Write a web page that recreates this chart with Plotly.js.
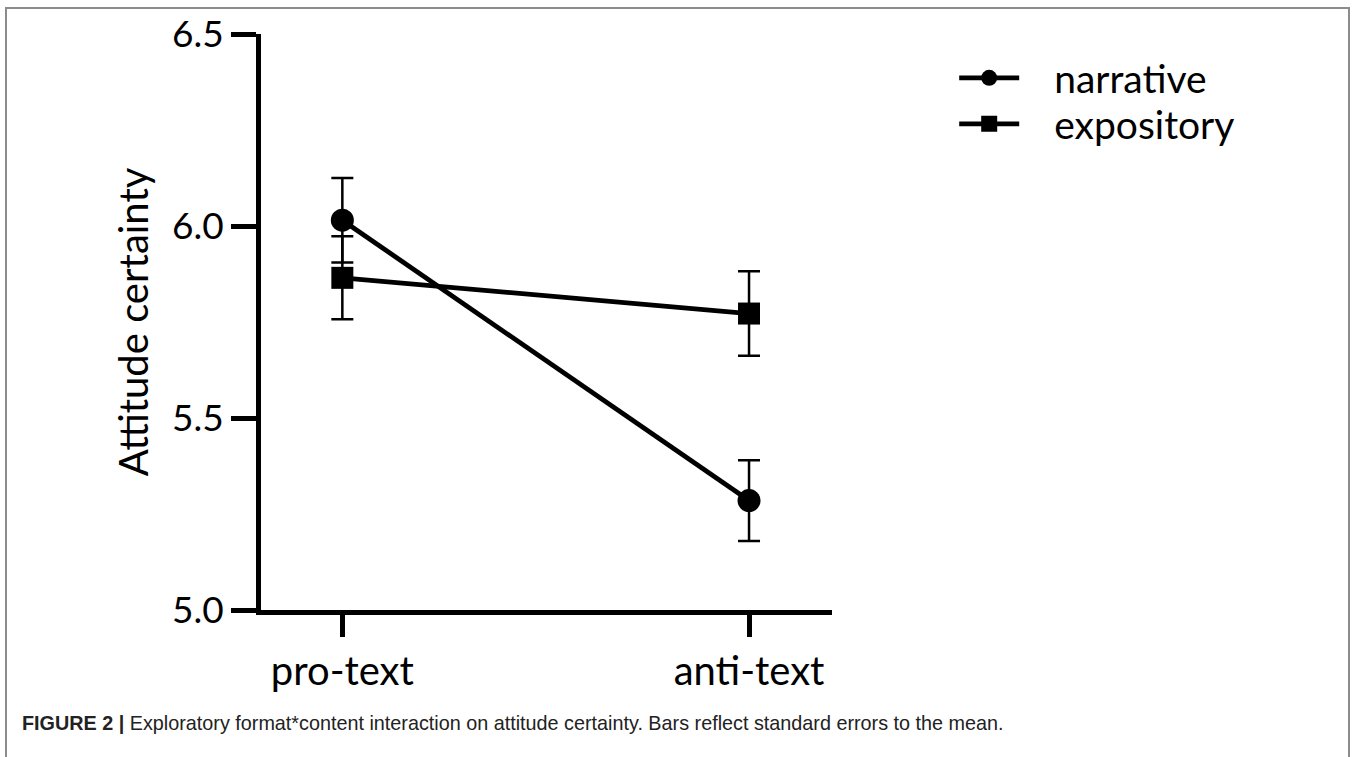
<!DOCTYPE html>
<html>
<head>
<meta charset="utf-8">
<script src="https://cdn.plot.ly/plotly-3.0.1.min.js"></script>
<style>
  html, body { margin: 0; padding: 0; background: #fff; }
  #wrap { position: relative; width: 1357px; height: 757px; overflow: hidden; }
  #frame { position: absolute; left: 5px; top: 7px; width: 1345px; height: 760px;
           border: 2px solid #8c8c8c; border-bottom: none; box-sizing: border-box; pointer-events: none; }
  #chart { position: absolute; left: 0; top: 0; width: 1357px; height: 757px; }
</style>
</head>
<body>
<div id="wrap">
  <div id="chart"></div>
  <div id="frame"></div>
</div>
<script>
const categories = ["pro-text", "anti-text"];
const narrativeMean = [6.015, 5.285];
const narrativeSE = [0.11, 0.105];
const expositoryMean = [5.865, 5.772];
const expositorySE = [0.108, 0.11];
const yTicks = [5.0, 5.5, 6.0, 6.5];
const yTickText = ["5.0", "5.5", "6.0", "6.5"];
const seriesNames = ["narrative", "expository"];

const chartFont = "Lato, 'Open Sans', sans-serif";
const pad = "\u00a0\u00a0\u00a0";

const errStyle = { type: "data", visible: true, thickness: 2.5, width: 11, color: "#000" };

const traces = [
  {
    x: categories, y: narrativeMean, name: pad + seriesNames[0], type: "scatter", mode: "lines+markers",
    legend: "legend",
    line: { color: "#000", width: 4.8 },
    marker: { symbol: "circle", size: 23, color: "#000" },
    error_y: Object.assign({ array: narrativeSE }, errStyle)
  },
  {
    x: categories, y: expositoryMean, name: pad + seriesNames[1], type: "scatter", mode: "lines+markers",
    legend: "legend2",
    line: { color: "#000", width: 4.8 },
    marker: { symbol: "square", size: 22, color: "#000" },
    error_y: Object.assign({ array: expositorySE }, errStyle)
  }
];

const legendBase = {
  xanchor: "left", yanchor: "middle",
  font: { family: chartFont, size: 39, color: "#000" },
  itemwidth: 60, bgcolor: "rgba(0,0,0,0)", borderwidth: 0
};

const layout = {
  width: 1357, height: 757,
  margin: { l: 261, r: 525, t: 34, b: 147 },
  paper_bgcolor: "#fff", plot_bgcolor: "#fff",
  font: { family: chartFont, color: "#000" },
  showlegend: true,
  legend: Object.assign({ x: 1.214, y: (610 - 78) / 576 }, legendBase),
  legend2: Object.assign({ x: 1.214, y: (610 - 124) / 576 }, legendBase),
  title: {
    text: "<b>FIGURE 2 |</b> Exploratory format*content interaction on attitude certainty. Bars reflect standard errors to the mean.",
    font: { family: "'Liberation Sans', Arial, sans-serif", size: 19.8, color: "#222" },
    x: 22 / 1357, xanchor: "left", xref: "container",
    y: 1 - 723 / 757, yanchor: "middle", yref: "container"
  },
  xaxis: {
    type: "category", range: [-0.2, 1.204],
    showgrid: false, zeroline: false,
    showline: true, linecolor: "#000", linewidth: 5,
    ticks: "outside", ticklen: 22, tickwidth: 5, tickcolor: "#000",
    tickfont: { family: chartFont, size: 40, color: "#000" },
    fixedrange: true
  },
  yaxis: {
    range: [5, 6.5], tickvals: yTicks, ticktext: yTickText,
    showgrid: false, zeroline: false,
    showline: true, linecolor: "#000", linewidth: 5,
    ticks: "outside", ticklen: 25, tickwidth: 5, tickcolor: "#000",
    tickfont: { family: chartFont, size: 37, color: "#000" },
    title: { text: "Attitude certainty", font: { family: chartFont, size: 40, color: "#000" }, standoff: 12 },
    fixedrange: true
  }
};

Plotly.newPlot("chart", traces, layout, { displayModeBar: false, staticPlot: true });
</script>
</body>
</html>
